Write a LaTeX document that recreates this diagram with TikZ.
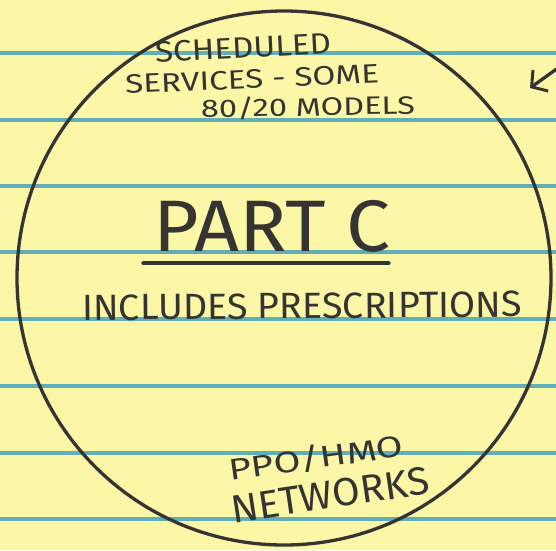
\documentclass[tikz,border=0pt]{standalone}
\usepackage{fontspec}
\setsansfont{Fira Sans}
\usetikzlibrary{arrows.meta}
\definecolor{paper}{RGB}{252,247,166}
\definecolor{rule}{RGB}{96,174,184}
\definecolor{ink}{RGB}{52,52,50}
\tikzset{
  ruleline/.style={rule, line width=3.2pt},
  pen/.style={ink, line width=3.3pt},
  hand/.style={ink, inner sep=0pt, font=\sffamily},
}
\newcommand{\fitted}[3]{\resizebox*{#1pt}{#2pt}{#3}}
\begin{document}
\begin{tikzpicture}[x=1pt,y=-1pt]
\fill[paper] (0,0) rectangle (556,550);
\useasboundingbox (0,0) rectangle (556,550);
% ruled lines
\foreach \yy in {53,120,186,252,319,386,453,519}
  \draw[ruleline] (0,\yy) -- (556,\yy);
% big circle
\node[pen, draw, circle, minimum size=534pt, inner sep=0pt] (circ) at (284,278) {};
% texts
\node[hand, rotate=3] (sched) at (243,48) {\fitted{176}{21}{SCHEDULED}};
\node[hand, rotate=2.5] (serv) at (252,79) {\fitted{254}{19}{SERVICES - SOME}};
\node[hand, rotate=1] (mod) at (308,107) {\fitted{214}{23}{80/20 MODELS}};
\node[hand] (partc) at (272,226) {\fitted{237}{52}{PART C}};
\draw[pen, line width=3.8pt, line cap=round] ([xshift=-10pt,yshift=-11pt]partc.south west) -- ([xshift=-2pt,yshift=-11pt]partc.south east);
\node[hand, rotate=0.5] (incl) at (302,306) {\fitted{440}{26}{INCLUDES PRESCRIPTIONS}};
\node[hand, rotate=8] (ppo) at (316,458) {\fitted{176}{27}{PPO/HMO}};
\node[hand, rotate=8.5] (net) at (330,495) {\fitted{200}{28}{NETWORKS}};
% arrow at top right
\coordinate (atail) at (558,68);
\coordinate (ahead) at (530,88);
\draw[pen, line cap=round, -{Straight Barb[length=11pt,width=26pt,line width=3pt]}] (atail) -- (ahead);
\end{tikzpicture}
\end{document}
